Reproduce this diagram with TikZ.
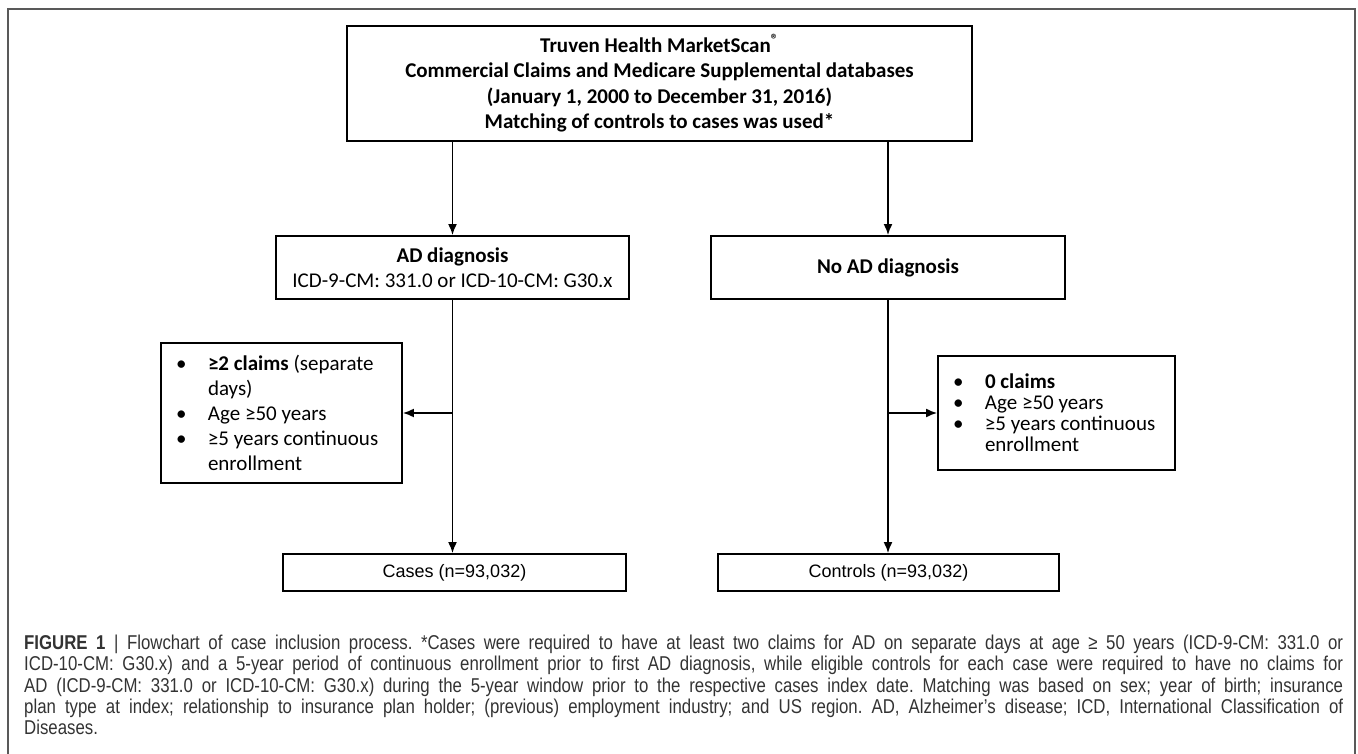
\documentclass[tikz,border=0pt]{standalone}
\usepackage{fontspec}
\setmainfont{Carlito}
\newfontfamily\capfont{Liberation Sans}[FakeStretch=0.84]
\newfontfamily\numfont{Liberation Sans}
\usetikzlibrary{arrows.meta}
\newcommand{\critbul}{\makebox[32pt][l]{\textbullet}}

\begin{document}
\begin{tikzpicture}[x=1pt,y=-1pt]
        \tikzset{box/.style={draw, line width=1.8pt, inner sep=0pt, align=center},
                 crit/.style={draw, line width=1.8pt, inner xsep=15pt, inner ysep=0pt, align=flush left},
                 arr/.style={line width=1.8pt, -{Latex[length=11pt,width=9pt]}}}
        \useasboundingbox (0,0) rectangle (1358,754);
        \draw [line width=2pt, black!65] (8,754)--(8,9)--(1355,9)--(1355,754);

        \node [box, minimum width=625pt, minimum height=115pt, font=\bfseries\fontsize{21}{25.5}\selectfont] (top) at (659.5,83.5) {Truven Health MarketScan\textsuperscript{\textregistered}\\Commercial Claims and Medicare Supplemental databases\\(January 1, 2000 to December 31, 2016)\\Matching of controls to cases was used*};
        \node [box, minimum width=353pt, minimum height=63pt, font=\fontsize{21}{25.5}\selectfont] (diag) at (452.5,267.5) {\textbf{AD diagnosis}\\ICD-9-CM: 331.0 or ICD-10-CM: G30.x};
        \node [box, minimum width=354pt, minimum height=63pt, font=\bfseries\fontsize{21}{25.5}\selectfont] (nodiag) at (888,267.5) {No AD diagnosis};
        \node [crit, text width=211pt, minimum height=140pt, font=\fontsize{21}{25}\selectfont] (critA) at (281.5,413) {\spaceskip=0pt\xspaceskip=0pt\critbul\textbf{≥2 claims} (separate\\\hspace*{32pt}days)\\\critbul Age ≥50 years\\\critbul ≥5 years continuous\\\hspace*{32pt}enrollment};
        \node [crit, text width=207pt, minimum height=114pt, font=\fontsize{21}{21}\selectfont] (critB) at (1056.5,413) {\spaceskip=0pt\xspaceskip=0pt\critbul\textbf{0 claims}\\\critbul Age ≥50 years\\\critbul ≥5 years continuous\\\hspace*{32pt}enrollment};
        \node [box, minimum width=343pt, minimum height=37pt, font=\numfont\fontsize{18}{21}\selectfont] (cases) at (454.5,572.5) {Cases (n=93,032)};
        \node [box, minimum width=341pt, minimum height=37pt, font=\numfont\fontsize{18}{21}\selectfont] (controls) at (888.5,572.5) {Controls (n=93,032)};

        \draw [arr] (diag.north |- top.south) -- (diag.north);
        \draw [arr] (nodiag.north |- top.south) -- (nodiag.north);
        \draw [arr] (diag.south) -- (diag.south |- cases.north);
        \draw [arr] (nodiag.south) -- (nodiag.south |- controls.north);
        \coordinate (splitA) at (diag.south |- critA.east);
        \coordinate (splitB) at (nodiag.south |- critB.west);
        \draw [arr] (splitA) -- (critA.east);
        \draw [arr] (splitB) -- (critB.west);

        \node [anchor=north west, text width=1319pt, align=justify, inner sep=0pt, text=black!80, font=\capfont\fontsize{20}{21.2}\selectfont] (cap) at (24,635) {\frenchspacing\tolerance=10000\hyphenpenalty=10000 \textbf{FIGURE 1} | Flowchart of case inclusion process. *Cases were required to have at least two claims for AD on separate days at age ≥ 50 years (ICD-9-CM: 331.0 or\linebreak ICD-10-CM: G30.x) and a 5-year period of continuous enrollment prior to first AD diagnosis, while eligible controls for each case were required to have no claims for\linebreak AD (ICD-9-CM: 331.0 or ICD-10-CM: G30.x) during the 5-year window prior to the respective cases index date. Matching was based on sex; year of birth; insurance\linebreak plan type at index; relationship to insurance plan holder; (previous) employment industry; and US region. AD, Alzheimer’s disease; ICD, International Classification of\linebreak Diseases.};
\end{tikzpicture}
\end{document}
